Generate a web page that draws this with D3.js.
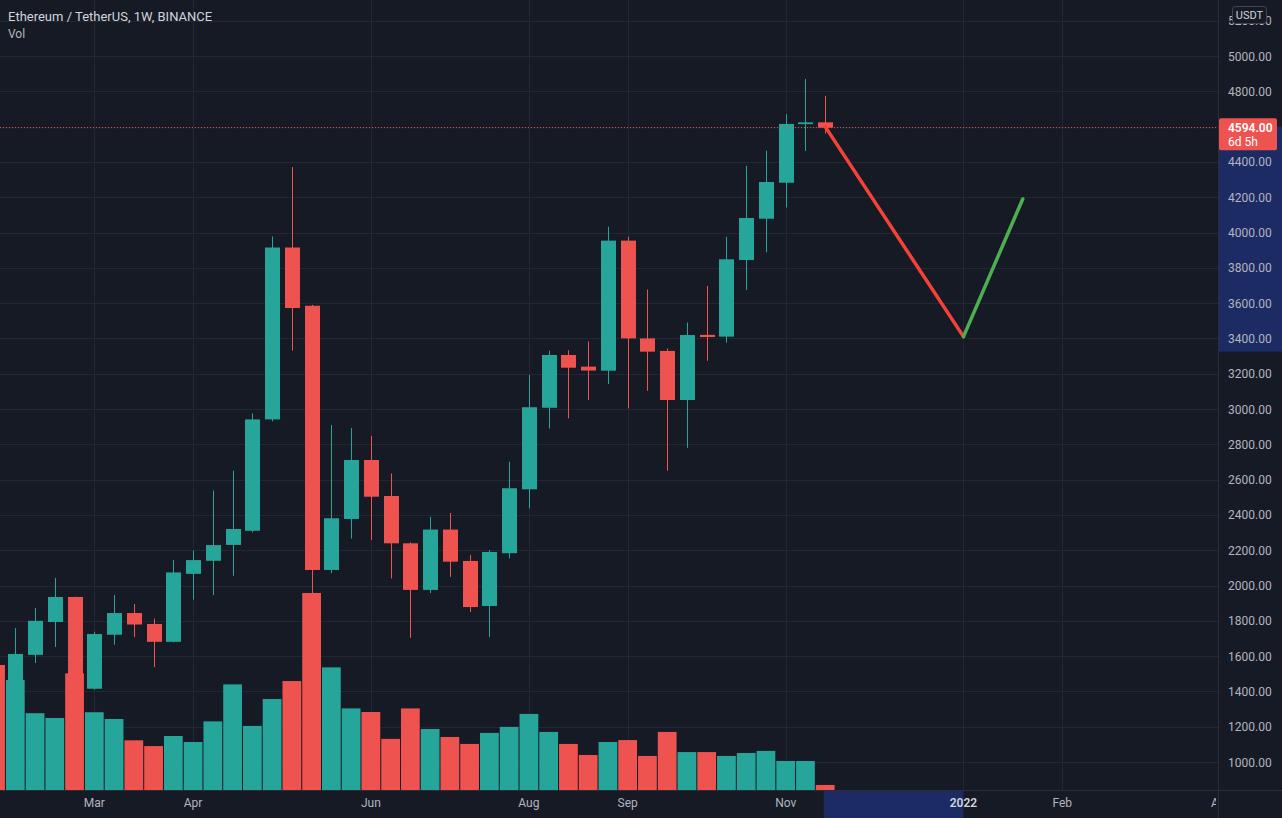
<!DOCTYPE html>
<html><head><meta charset="utf-8">
<script src="https://cdn.jsdelivr.net/npm/d3@7"></script>
<style>html,body{margin:0;padding:0;background:#161a25;overflow:hidden}text{font-family:Roboto,"Noto Sans",sans-serif}</style>
</head><body>
<svg id="chart" width="1282" height="818"></svg>
<script>
const weeks = ["2021-01-25","2021-02-01","2021-02-08","2021-02-15","2021-02-22","2021-03-01","2021-03-08","2021-03-15","2021-03-22","2021-03-29","2021-04-05","2021-04-12","2021-04-19","2021-04-26","2021-05-03","2021-05-10","2021-05-17","2021-05-24","2021-05-31","2021-06-07","2021-06-14","2021-06-21","2021-06-28","2021-07-05","2021-07-12","2021-07-19","2021-07-26","2021-08-02","2021-08-09","2021-08-16","2021-08-23","2021-08-30","2021-09-06","2021-09-13","2021-09-20","2021-09-27","2021-10-04","2021-10-11","2021-10-18","2021-10-25","2021-11-01","2021-11-08","2021-11-15"];
const openP  = [1390,1314,1607,1793,1935,1415,1721,1844,1782,1681,2066,2140,2230,2310,2941,3915,3585,2088,2377,2711,2507,2239,1975,2317,2139,1884,2183,2545,3007,3306,3240,3217,3954,3400,3329,3051,3420,3410,3844,4078,4282,4614,4624];
const highP  = [1470,1759,1872,2043,1937,1738,1946,1895,1813,2144,2198,2538,2650,2975,3977,4371,3590,2909,2893,2848,2635,2245,2389,2411,2173,2201,2701,3193,3330,3333,3382,4033,3976,3677,3343,3490,3697,3976,4378,4463,4670,4870,4774];
const lowP   = [1230,1272,1561,1652,1293,1410,1664,1708,1538,1678,1920,1946,2055,2301,2930,3331,1900,2070,2266,2258,2040,1703,1957,2049,1850,1708,2154,2437,2890,2947,3051,3142,3003,3103,2650,2780,3273,3376,3674,3888,4142,4462,4560];
const closeP = [1314,1612,1800,1935,1417,1725,1844,1779,1681,2074,2144,2229,2320,2941,3915,3572,2088,2381,2711,2503,2239,1975,2317,2135,1878,2190,2551,3010,3306,3234,3218,3954,3400,3325,3051,3419,3408,3848,4082,4286,4615,4624,4594];
const volumeM = [5.21,4.58,3.20,3.00,4.86,3.24,2.96,2.07,1.83,2.25,2.00,2.86,4.40,2.67,3.79,4.54,8.21,5.11,3.40,3.25,2.13,3.40,2.54,2.21,1.92,2.38,2.63,3.17,2.42,1.92,1.46,2.00,2.08,1.42,2.42,1.58,1.58,1.42,1.54,1.63,1.21,1.21,0.21];
const priceTicks = [1000,1200,1400,1600,1800,2000,2200,2400,2600,2800,3000,3200,3400,3600,3800,4000,4200,4400,4800,5000,5200];
const gridPrices = [1000,1200,1400,1600,1800,2000,2200,2400,2600,2800,3000,3200,3400,3600,3800,4000,4200,4400,4600,4800,5000,5200];
const timeTickDates = ["2021-03-01","2021-04-05","2021-06-07","2021-08-02","2021-09-06","2021-11-01","2022-01-03","2022-02-07","2022-04-04"];
const timeTickLabels = ["Mar","Apr","Jun","Aug","Sep","Nov","2022","Feb","Apr"];
const drawDates = ["2021-11-15","2022-01-03","2022-01-24"];
const drawPrices = [4600,3410,4190];
const lastPrice = 4594;
const countdown = "6d 5h";
const titleText = "Ethereum / TetherUS, 1W, BINANCE";
const volText = "Vol";
const currency = "USDT";

const W = 1282, H = 818, plotR = 1218, plotB = 790;
const UP = "#26a69a", DOWN = "#ef5350", BG = "#161a25", GRID = "#232733", TXT = "#b2b5be";
const parse = d3.utcParse("%Y-%m-%d");
const x = d3.scaleUtc().domain([parse("2021-02-01"), parse("2021-11-01")]).range([15.3, 785.7]);
const y = d3.scaleLinear().domain([1000, 5000]).range([762, 56]);
const yv = d3.scaleLinear().domain([0, 10]).range([plotB, plotB - 240]);
const step = x(parse("2021-02-08")) - x(parse("2021-02-01"));

const data = weeks.map((d, i) => ({date: parse(d), o: openP[i], h: highP[i], l: lowP[i], c: closeP[i], v: volumeM[i]}));

const svg = d3.select("#chart");
svg.append("rect").attr("width", W).attr("height", H).attr("fill", BG);
svg.append("defs").append("clipPath").attr("id", "plot").append("rect").attr("x", 0).attr("y", 0).attr("width", plotR).attr("height", plotB);

const plot = svg.append("g").attr("clip-path", "url(#plot)");
// grid
plot.selectAll(".hg").data(gridPrices).join("line").attr("x1", 0).attr("x2", plotR)
  .attr("y1", d => Math.round(y(d)) + 0.5).attr("y2", d => Math.round(y(d)) + 0.5).attr("stroke", GRID).attr("stroke-width", 1);
plot.selectAll(".vg").data(timeTickDates).join("line")
  .attr("x1", d => Math.round(x(parse(d))) + 0.5).attr("x2", d => Math.round(x(parse(d))) + 0.5)
  .attr("y1", 0).attr("y2", plotB).attr("stroke", GRID).attr("stroke-width", 1);

// volume
plot.selectAll(".vol").data(data).join("rect")
  .attr("x", d => x(d.date) - (step - 1) / 2).attr("width", step - 1)
  .attr("y", d => yv(d.v)).attr("height", d => plotB - yv(d.v))
  .attr("fill", d => d.c >= d.o ? UP : DOWN);

// candles
const cg = plot.selectAll(".c").data(data).join("g");
cg.append("line").attr("x1", d => Math.round(x(d.date)) + 0.5).attr("x2", d => Math.round(x(d.date)) + 0.5)
  .attr("y1", d => y(d.h)).attr("y2", d => y(d.l)).attr("stroke", d => d.c >= d.o ? UP : DOWN).attr("stroke-width", 1);
cg.append("rect").attr("x", d => Math.round(x(d.date)) - 7).attr("width", 15)
  .attr("y", d => y(Math.max(d.o, d.c))).attr("height", d => Math.max(1.5, Math.abs(y(d.o) - y(d.c))))
  .attr("fill", d => d.c >= d.o ? UP : DOWN);

// last price dotted line
plot.append("line").attr("x1", 0).attr("x2", plotR).attr("y1", y(lastPrice)).attr("y2", y(lastPrice))
  .attr("stroke", DOWN).attr("stroke-width", 1).attr("stroke-dasharray", "1,2");

// drawing
const dp = drawDates.map((d, i) => [x(parse(d)), y(drawPrices[i])]);
plot.append("line").attr("x1", dp[0][0]).attr("y1", dp[0][1]).attr("x2", dp[1][0]).attr("y2", dp[1][1])
  .attr("stroke", "#f44336").attr("stroke-width", 3.5).attr("stroke-linecap", "round");
plot.append("line").attr("x1", dp[1][0]).attr("y1", dp[1][1]).attr("x2", dp[2][0]).attr("y2", dp[2][1])
  .attr("stroke", "#4caf50").attr("stroke-width", 3.5).attr("stroke-linecap", "round");

// price axis
svg.append("rect").attr("x", plotR + 0.5).attr("y", dp[0][1]).attr("width", W - plotR).attr("height", dp[1][1] + 15 - dp[0][1]).attr("fill", "#1c2b63");
svg.append("line").attr("x1", plotR + 0.5).attr("x2", plotR + 0.5).attr("y1", 0).attr("y2", H).attr("stroke", "#2a2e39");
const fmt = d3.format(".2f");
svg.selectAll(".pl").data(priceTicks).join("text").attr("x", 1228).attr("y", d => y(d) + 4.5)
  .attr("fill", TXT).attr("font-size", 12).text(d => fmt(d));
// USDT box
svg.append("rect").attr("x", 1232.5).attr("y", 6.5).attr("width", 34).attr("height", 17).attr("rx", 3)
  .attr("fill", BG).attr("stroke", "#434651");
svg.append("text").attr("x", 1249.5).attr("y", 19).attr("text-anchor", "middle").attr("fill", "#d1d4dc").attr("font-size", 11).text(currency);
// last price label
const ly = y(lastPrice);
svg.append("rect").attr("x", plotR + 1).attr("y", ly - 9.5).attr("width", 58).attr("height", 32).attr("rx", 2).attr("fill", DOWN);
svg.append("text").attr("x", 1228).attr("y", ly + 4.5).attr("fill", "#ffffff").attr("font-size", 12).attr("font-weight", 600).text(fmt(lastPrice));
svg.append("text").attr("x", 1228).attr("y", ly + 18.5).attr("fill", "#ffffff").attr("font-size", 12).text(countdown);

// time axis
svg.append("rect").attr("x", x(parse(drawDates[0])) - 1.5).attr("y", plotB + 0.5)
  .attr("width", x(parse(drawDates[1])) - x(parse(drawDates[0])) + 1.5).attr("height", H - plotB).attr("fill", "#1c2b63");
svg.append("line").attr("x1", 0).attr("x2", W).attr("y1", plotB + 0.5).attr("y2", plotB + 0.5).attr("stroke", "#2a2e39");
svg.append("clipPath").attr("id", "taxis").append("rect").attr("x", 0).attr("y", plotB).attr("width", plotR - 2).attr("height", H - plotB);
svg.append("g").attr("clip-path", "url(#taxis)").selectAll("text").data(timeTickDates).join("text")
  .attr("x", d => x(parse(d))).attr("y", 807).attr("text-anchor", "middle")
  .attr("fill", (d, i) => timeTickLabels[i] === "2022" ? "#d1d4dc" : TXT)
  .attr("font-weight", (d, i) => timeTickLabels[i] === "2022" ? 600 : 400)
  .attr("font-size", 12).text((d, i) => timeTickLabels[i]);

// titles
svg.append("text").attr("x", 8).attr("y", 21).attr("fill", "#d1d4dc").attr("font-size", 13).text(titleText);
svg.append("text").attr("x", 8).attr("y", 38).attr("fill", TXT).attr("font-size", 12).text(volText);
</script>
</body></html>
